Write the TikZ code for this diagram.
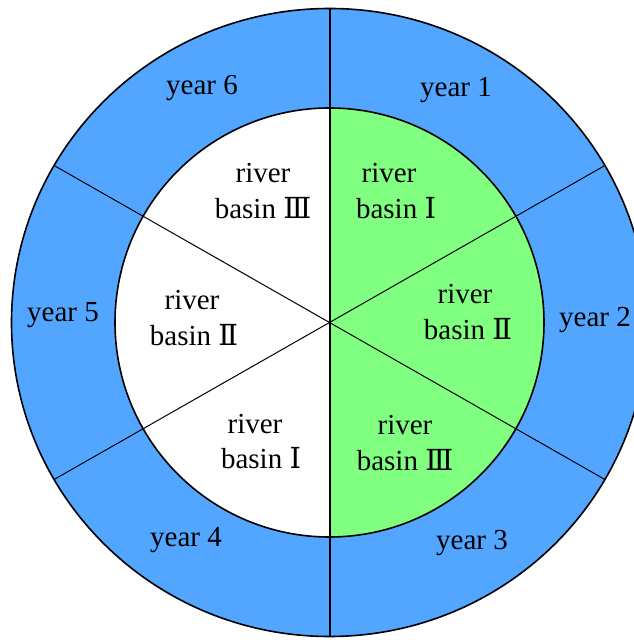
\documentclass[tikz,border=0pt]{standalone}
\usepackage{fontspec}
\usetikzlibrary{calc}
\setmainfont{Liberation Serif}
\newfontfamily\numfont{DejaVu Serif}
\newcommand{\rn}[1]{{\numfont\fontsize{29}{33}\selectfont #1}}
\definecolor{ringblue}{RGB}{82,166,255}
\definecolor{basingreen}{RGB}{128,255,128}
\tikzset{
  lbl/.style={inner sep=0pt, anchor=base, font=\fontsize{29}{33}\selectfont},
  spoke/.style={line width=1pt},
  rim/.style={line width=1.6pt}
}
\begin{document}
\begin{tikzpicture}[x=1pt,y=1pt]
\useasboundingbox (0,0) rectangle (634,640);
\fill[white] (0,0) rectangle (634,640);
\clip (0,0) rectangle (634,640);
\coordinate (c) at (329.5,317.5);
% outer ring of years
\fill[ringblue] (c) ellipse [x radius=318, y radius=314];
\draw[rim] (c) ellipse [x radius=318, y radius=314];
% inner disc: white left half, green right half
\fill[white] (c) circle [radius=214.5];
\fill[basingreen] (329.5,532) arc [start angle=90, end angle=-90, radius=214.5] -- cycle;
\draw[rim] (c) circle [radius=214.5];
% spokes
\coordinate (t) at (329.5,631.5);
\coordinate (b) at (329.5,3.5);
\coordinate (s30) at ($(c)+(275.4,157)$);
\coordinate (s150) at ($(c)+(-275.4,157)$);
\coordinate (s210) at ($(c)+(-275.4,-157)$);
\coordinate (s330) at ($(c)+(275.4,-157)$);
\draw[line width=2pt] (t) -- (b);
\draw[spoke] (s30) -- (s210);
\draw[spoke] (s150) -- (s330);
% year labels
\node[lbl] (y1) at (456,543) {year 1};
\node[lbl] (y2) at (595,313) {year 2};
\node[lbl] (y3) at (472,90) {year 3};
\node[lbl] (y4) at (186,93) {year 4};
\node[lbl] (y5) at (63,318) {year 5};
\node[lbl] (y6) at (202,545) {year 6};
% basin labels
\node[lbl] (r1a) at (389,457) {river};
\node[lbl] (r1b) at (396,421) {basin \rn{Ⅰ}};
\node[lbl] (r2a) at (465,336) {river};
\node[lbl] (r2b) at (468,300) {basin \rn{Ⅱ}};
\node[lbl] (r3a) at (405,205) {river};
\node[lbl] (r3b) at (405,169) {basin \rn{Ⅲ}};
\node[lbl] (l3a) at (263,457) {river};
\node[lbl] (l3b) at (263,421) {basin \rn{Ⅲ}};
\node[lbl] (l2a) at (192,330) {river};
\node[lbl] (l2b) at (194,294) {basin \rn{Ⅱ}};
\node[lbl] (l1a) at (255,206) {river};
\node[lbl] (l1b) at (261,171) {basin \rn{Ⅰ}};
\end{tikzpicture}
\end{document}
